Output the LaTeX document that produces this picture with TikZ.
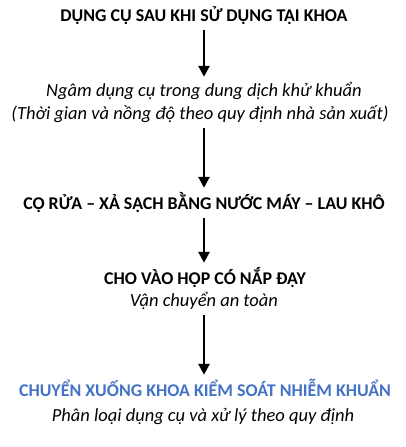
\documentclass[tikz,border=0pt]{standalone}
\usepackage{fontspec}
\setmainfont{Carlito}
\usetikzlibrary{arrows.meta}
\definecolor{kblue}{RGB}{68,114,196}

\begin{document}
\begin{tikzpicture}[x=1pt,y=1pt,>={Triangle[width=11pt,length=11pt]},
  head/.style={font=\bfseries\fontsize{17.9}{21}\selectfont,anchor=base,inner sep=0pt,text height=22pt,text depth=8pt},
  note/.style={font=\itshape\fontsize{18.5}{22}\selectfont,anchor=base,inner sep=0pt,text height=20pt,text depth=8pt},
  flow/.style={->,line width=2.6pt}]
  \useasboundingbox (0,0) rectangle (406,447);
  % steps, top to bottom
  \node[head] (khoa) at (204,425) {DỤNG CỤ SAU KHI SỬ DỤNG TẠI KHOA};
  \node[note] (ngam) at (204,350) {Ngâm dụng cụ trong dung dịch khử khuẩn};
  \node[note] (tgian) at (200,327) {(Thời gian và nồng độ theo quy định nhà sản xuất)};
  \node[head] (corua) at (204,237) {CỌ RỬA – XẢ SẠCH BẰNG NƯỚC MÁY – LAU KHÔ};
  \node[head] (hop) at (205,162) {CHO VÀO HỘP CÓ NẮP ĐẬY};
  \node[note] (vchuyen) at (204,140) {Vận chuyển an toàn};
  \node[head,text=kblue] (ksnk) at (205,50) {CHUYỂN XUỐNG KHOA KIỂM SOÁT NHIỄM KHUẨN};
  \node[note] (ploai) at (203,25) {Phân loại dụng cụ và xử lý theo quy định};
  % arrows
  \draw[flow] (khoa.south) -- (ngam.north);
  \draw[flow] (tgian.south -| ngam.south) -- (corua.north);
  \draw[flow] (corua.south) -- (corua.south |- hop.north);
  \draw[flow] (vchuyen.south) -- (vchuyen.south |- ksnk.north);
\end{tikzpicture}
\end{document}
